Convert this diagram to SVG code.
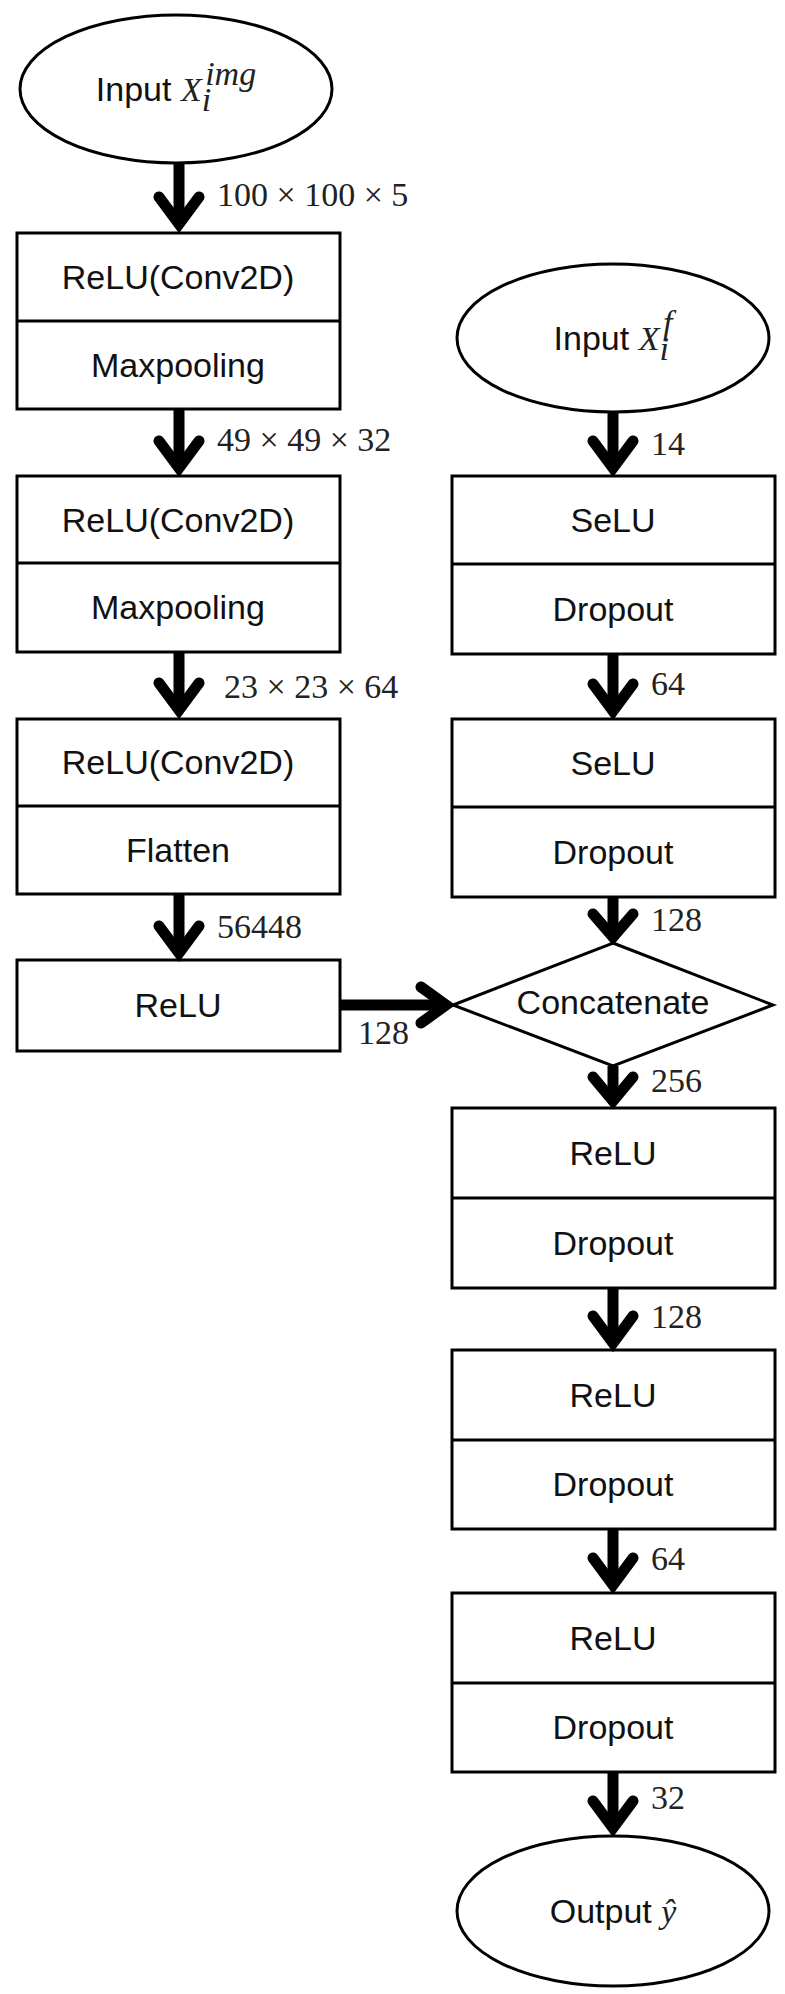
<svg xmlns="http://www.w3.org/2000/svg" width="785" height="1994" viewBox="0 0 785 1994">
<style>
.b{fill:#fff;stroke:#000;stroke-width:3}
.t{font-family:"Liberation Sans",Arial,sans-serif;font-size:34px;text-anchor:middle;fill:#111}
.m{font-family:"Liberation Serif","DejaVu Serif",serif;font-size:34px;fill:#222}
.i{font-style:italic}
.a{stroke:#000;stroke-width:11;fill:none}
.h{stroke:#000;stroke-width:11;fill:none;stroke-linecap:round}
</style>
<rect width="785" height="1994" fill="#fff"/>
<g id="in_img"><ellipse class="b" cx="176" cy="89" rx="156" ry="74"/><text class="t" x="176" y="101">Input <tspan class="m i">X</tspan><tspan class="m i" font-size="22" dy="10">i</tspan><tspan class="m i" font-size="22" dx="-6" dy="-26">img</tspan></text></g>
<g id="c1"><rect class="b" x="17" y="233" width="323" height="176"/><line class="b" x1="17" y1="321" x2="340" y2="321"/><text class="t" x="178" y="289">ReLU(Conv2D)</text><text class="t" x="178" y="377">Maxpooling</text></g>
<g id="c2"><rect class="b" x="17" y="476" width="323" height="176"/><line class="b" x1="17" y1="563" x2="340" y2="563"/><text class="t" x="178" y="532">ReLU(Conv2D)</text><text class="t" x="178" y="619">Maxpooling</text></g>
<g id="c3"><rect class="b" x="17" y="719" width="323" height="175"/><line class="b" x1="17" y1="806" x2="340" y2="806"/><text class="t" x="178" y="774">ReLU(Conv2D)</text><text class="t" x="178" y="862">Flatten</text></g>
<g id="relu0"><rect class="b" x="17" y="960" width="323" height="91"/><text class="t" x="178" y="1017">ReLU</text></g>
<g id="in_f"><ellipse class="b" cx="613" cy="338" rx="156" ry="74"/><text class="t" x="613" y="350">Input <tspan class="m i">X</tspan><tspan class="m i" font-size="22" dy="10">i</tspan><tspan class="m i" font-size="22" dx="-6" dy="-26">f</tspan></text></g>
<g id="r1"><rect class="b" x="452" y="476" width="323" height="178"/><line class="b" x1="452" y1="564" x2="775" y2="564"/><text class="t" x="613" y="532">SeLU</text><text class="t" x="613" y="621">Dropout</text></g>
<g id="r2"><rect class="b" x="452" y="719" width="323" height="178"/><line class="b" x1="452" y1="807" x2="775" y2="807"/><text class="t" x="613" y="775">SeLU</text><text class="t" x="613" y="864">Dropout</text></g>
<g id="concat"><polygon class="b" stroke-width="2" points="613,943 773,1005 613,1066 453,1005"/><text class="t" x="613" y="1014" font-size="25">Concatenate</text></g>
<g id="r3"><rect class="b" x="452" y="1108" width="323" height="180"/><line class="b" x1="452" y1="1198" x2="775" y2="1198"/><text class="t" x="613" y="1165">ReLU</text><text class="t" x="613" y="1255">Dropout</text></g>
<g id="r4"><rect class="b" x="452" y="1350" width="323" height="179"/><line class="b" x1="452" y1="1440" x2="775" y2="1440"/><text class="t" x="613" y="1407">ReLU</text><text class="t" x="613" y="1496">Dropout</text></g>
<g id="r5"><rect class="b" x="452" y="1593" width="323" height="179"/><line class="b" x1="452" y1="1683" x2="775" y2="1683"/><text class="t" x="613" y="1650">ReLU</text><text class="t" x="613" y="1739">Dropout</text></g>
<g id="out"><ellipse class="b" cx="613" cy="1911" rx="156" ry="75"/><text class="t" x="613" y="1923">Output <tspan class="m i">ŷ</tspan></text></g>
<g id="connectors">
<path class="a" d="M179,164V224M179,409V466M179,652V710M179,894V952"/>
<path class="h" d="M159,197L179,224L199,197M159,441L179,468L199,441M159,683L179,710L199,683M159,926L179,953L199,926"/>
<path class="a" d="M340,1005H444"/>
<path class="h" d="M421,987L446,1005L421,1023"/>
<path class="a" d="M613,412V468M613,654V711M613,897V936M613,1066V1100M613,1288V1342M613,1529V1585M613,1772V1828"/>
<path class="h" d="M593,441L613,468L633,441M593,684L613,711L633,684M593,914L613,937L633,914M593,1077L613,1101L633,1077M593,1316L613,1343L633,1316M593,1558L613,1585L633,1558M593,1801L613,1828L633,1801"/>
</g>
<g id="labels">
<text class="m" x="217" y="206">100 × 100 × 5</text>
<text class="m" x="217" y="451">49 × 49 × 32</text>
<text class="m" x="224" y="698">23 × 23 × 64</text>
<text class="m" x="217" y="938">56448</text>
<text class="m" x="358" y="1044">128</text>
<text class="m" x="651" y="455">14</text>
<text class="m" x="651" y="695">64</text>
<text class="m" x="651" y="931">128</text>
<text class="m" x="651" y="1092">256</text>
<text class="m" x="651" y="1328">128</text>
<text class="m" x="651" y="1570">64</text>
<text class="m" x="651" y="1809">32</text>
</g>
</svg>
